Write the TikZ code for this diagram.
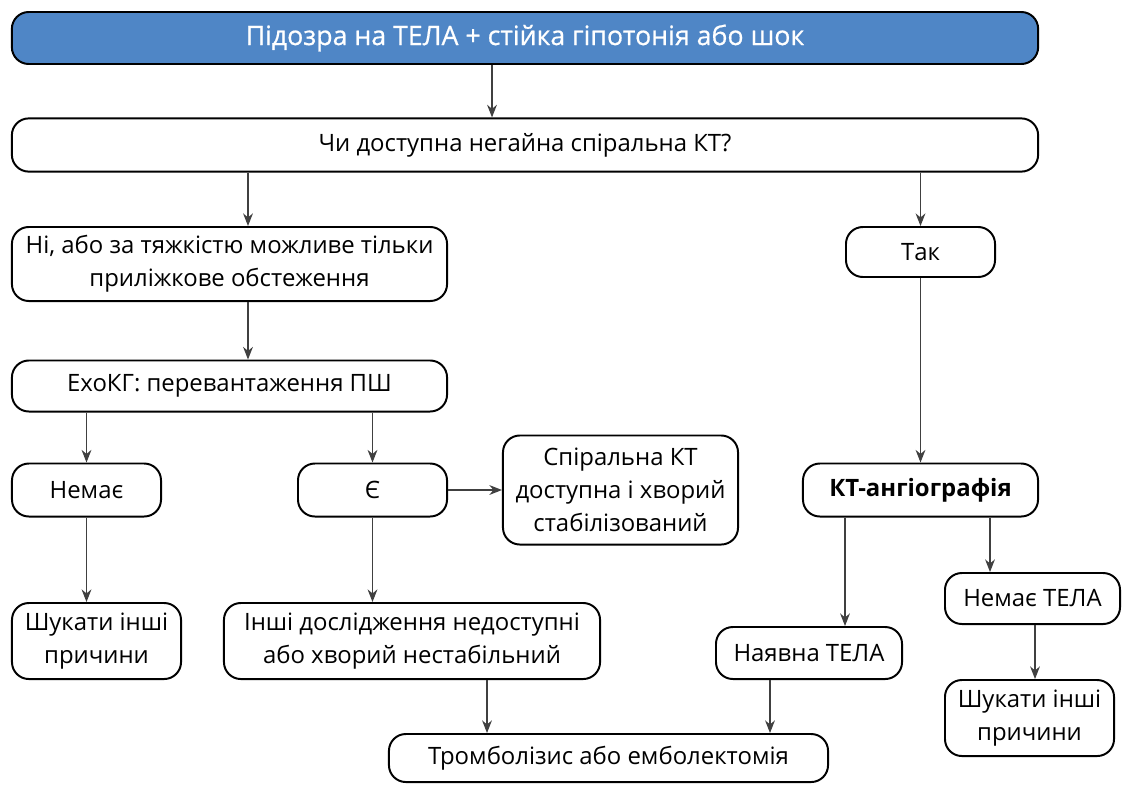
\documentclass[tikz,border=0pt]{standalone}
\usepackage{fontspec}
\setmainfont{Open Sans}
\usetikzlibrary{arrows.meta}
\definecolor{headblue}{HTML}{4F86C6}
\tikzset{
  box/.style={draw, rounded corners=12pt, line width=1.4pt, align=center,
    inner sep=2pt, font=\fontsize{17}{23.5}\selectfont},
  arr/.style={-{Stealth[length=9pt,width=7pt]}, line width=0.8pt, draw=black!75},
}
\begin{document}
\begin{tikzpicture}[x=0.025cm, y=-0.025cm]
\useasboundingbox (0,0) rectangle (1122,784);
% top of the chart
\node[box, fill=headblue, text=white, minimum width=25.65cm, minimum height=1.3cm,
  font=\fontsize{19}{23}\selectfont\addfontfeature{FakeBold=0.6}] (pe) at (525,38) {Підозра на ТЕЛА + стійка гіпотонія або шок};
\node[box, minimum width=25.65cm, minimum height=1.33cm] (ct) at (525,145) {Чи доступна негайна спіральна КТ?};
% left branch
\node[box, minimum width=10.875cm, minimum height=1.85cm] (no) at (229.5,264) {Ні, або за тяжкістю можливе тільки\\приліжкове обстеження};
\node[box, minimum width=10.875cm, minimum height=1.275cm] (echo) at (229.5,386) {ЕхоКГ: перевантаження ПШ};
\node[box, minimum width=3.725cm, minimum height=1.325cm] (none) at (86.5,490) {Немає};
\node[box, minimum width=3.725cm, minimum height=1.325cm] (yes) at (372.5,490) {Є};
\node[box, minimum width=5.875cm, minimum height=2.725cm] (spiral) at (620.5,490) {Спіральна КТ\\доступна і хворий\\стабілізований};
\node[box, minimum width=4.225cm, minimum height=1.9cm] (look1) at (96.5,641) {Шукати інші\\причини};
\node[box, minimum width=9.4cm, minimum height=1.9cm] (other) at (412,641) {Інші дослідження недоступні\\або хворий нестабільний};
% right branch
\node[box, minimum width=3.725cm, minimum height=1.25cm] (so) at (920.5,252) {Так};
\node[box, minimum width=5.875cm, minimum height=1.325cm, font=\fontsize{17}{23.5}\selectfont\bfseries] (cta) at (920.5,490) {КТ-ангіографія};
\node[box, minimum width=4.65cm, minimum height=1.3cm] (found) at (809,653) {Наявна ТЕЛА};
\node[box, minimum width=4.375cm, minimum height=1.275cm] (nope) at (1032.5,598.5) {Немає ТЕЛА};
\node[box, minimum width=4.225cm, minimum height=1.9cm] (look2) at (1029.5,718) {Шукати інші\\причини};
% end
\node[box, minimum width=10.975cm, minimum height=1.2cm] (lysis) at (608.5,758) {Тромболізис або емболектомія};

\draw[arr] (pe.south -| 492,0) -- (ct.north -| 492,0);
\draw[arr] (ct.south -| 248,0) -- (no.north -| 248,0);
\draw[arr] (ct.south -| so.north) -- (so.north);
\draw[arr] (no.south -| 248,0) -- (echo.north -| 248,0);
\draw[arr] (echo.south -| none.north) -- (none.north);
\draw[arr] (echo.south -| yes.north) -- (yes.north);
\draw[arr] (yes.east) -- (spiral.west);
\draw[arr] (none) -- (none |- look1.north);
\draw[arr] (yes) -- (yes |- other.north);
\draw[arr] (so) -- (cta);
\draw[arr] (cta.south -| 845,0) -- (found.north -| 845,0);
\draw[arr] (cta.south -| 990,0) -- (nope.north -| 990,0);
\draw[arr] (nope.south -| 1035,0) -- (look2.north -| 1035,0);
\draw[arr] (other.south -| 487,0) -- (lysis.north -| 487,0);
\draw[arr] (found.south -| 770,0) -- (lysis.north -| 770,0);
\end{tikzpicture}
\end{document}
